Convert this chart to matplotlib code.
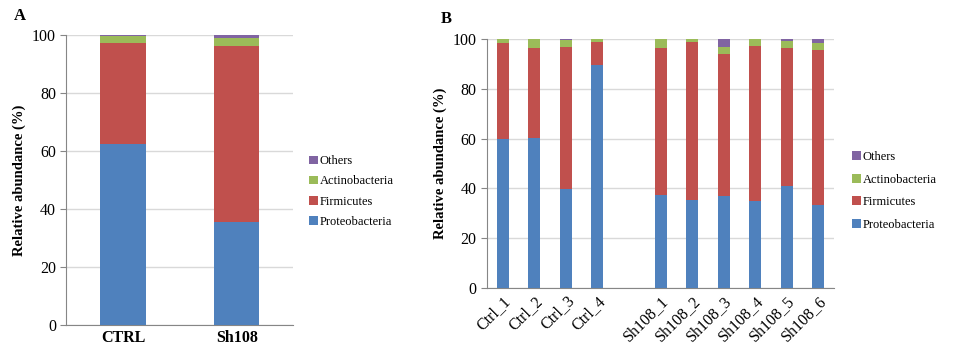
import numpy as np
import matplotlib
matplotlib.use('Agg')
from matplotlib import pyplot as plt

# panel A - group means
groups = ['CTRL', 'Sh108']
a_proteo = [62.3, 35.6]
a_firmi = [35.0, 60.5]
a_actino = [2.2, 2.8]
a_others = [0.5, 1.1]

# panel B - single samples (blank slot between groups)
samples = ['Ctrl_1', 'Ctrl_2', 'Ctrl_3', 'Ctrl_4', '',
           'Sh108_1', 'Sh108_2', 'Sh108_3', 'Sh108_4', 'Sh108_5', 'Sh108_6']
b_proteo = [59.9, 60.4, 39.7, 89.7, 0, 37.4, 35.4, 36.9, 34.9, 40.9, 33.3]
b_firmi = [38.5, 36.0, 57.1, 9.1, 0, 59.0, 63.4, 57.1, 62.4, 55.5, 62.4]
b_actino = [1.6, 3.6, 2.9, 1.2, 0, 3.6, 1.2, 2.8, 2.7, 2.8, 2.6]
b_others = [0.0, 0.0, 0.3, 0.0, 0, 0.0, 0.0, 3.2, 0.0, 0.8, 1.7]

phyla = ['Proteobacteria', 'Firmicutes', 'Actinobacteria', 'Others']
colors = ['#4F81BD', '#C0504D', '#9BBB59', '#8064A2']

plt.rcParams['font.family'] = ['Liberation Serif', 'DejaVu Serif']


def stacked(ax, labels, series, width, leg_y, leg_space):
    x = np.arange(len(labels))
    bottom = np.zeros(len(labels))
    handles = []
    for vals, name, c in zip(series, phyla, colors):
        h = ax.bar(x, vals, width, bottom=bottom, color=c, label=name,
                   edgecolor='none', zorder=3)
        bottom += np.array(vals)
        handles.append(h)
    ax.set_xlim(-0.5, len(labels) - 0.5)
    ax.set_ylim(0, 100)
    ax.set_yticks(range(0, 101, 20))
    ax.yaxis.grid(True, color='#d9d9d9', linewidth=1.0, zorder=0)
    for s in ['top', 'right']:
        ax.spines[s].set_visible(False)
    for s in ['left', 'bottom']:
        ax.spines[s].set_color('#868686')
    ax.tick_params(axis='y', length=4, color='#868686', labelsize=11.5)
    ax.tick_params(axis='x', length=0)
    ax.set_ylabel('Relative abundance (%)', fontweight='bold', fontsize=10.5)
    ax.set_xticks(x)
    ax.legend(handles[::-1], phyla[::-1], loc='center left',
              bbox_to_anchor=(1.02, leg_y), frameon=False, fontsize=9,
              handlelength=0.7, handleheight=0.7, handletextpad=0.15,
              labelspacing=leg_space)
    return x


fig = plt.figure(figsize=(9.75, 3.52), dpi=100)

axA = fig.add_axes([0.068, 0.077, 0.233, 0.824])
stacked(axA, groups, [a_proteo, a_firmi, a_actino, a_others], 0.4, 0.46, 0.65)
axA.set_xticklabels(groups, fontweight='bold', fontsize=11.5)
fig.text(0.014, 0.955, 'A', fontweight='bold', fontsize=12, va='center')

axB = fig.add_axes([0.4995, 0.182, 0.356, 0.707])
stacked(axB, samples, [b_proteo, b_firmi, b_actino, b_others], 0.38, 0.39, 0.85)
axB.set_xticklabels(samples, rotation=45, ha='right', rotation_mode='anchor',
                    fontsize=11.5)
fig.text(0.452, 0.945, 'B', fontweight='bold', fontsize=12, va='center')

fig.savefig('out.png', dpi=100)
